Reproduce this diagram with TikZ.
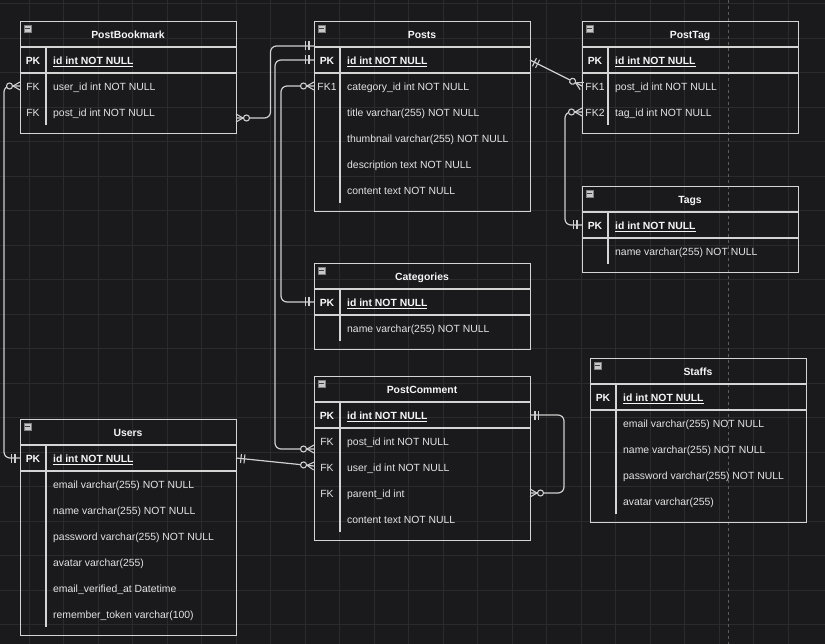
\documentclass[tikz,border=0pt]{standalone}
\usepackage{fontspec}
\setmainfont{Liberation Sans}
\usetikzlibrary{decorations.markings}
\definecolor{bgc}{HTML}{1A1A1C}
\definecolor{gridc}{HTML}{2B2B2E}
\definecolor{linec}{HTML}{D4D4D4}
\definecolor{connc}{HTML}{CFCFCF}
\definecolor{txtc}{HTML}{E4E4E4}
\definecolor{titc}{HTML}{F6F6F6}
\definecolor{iconc}{HTML}{C8C8C8}
\definecolor{dashc}{HTML}{5C5C5C}
\newcommand\fsz{\fontsize{10.4}{12}\selectfont}
\tikzset{
  every node/.style={font=\fsz, text=txtc, inner sep=0pt},
  tbl/.style={draw=linec, line width=1.1pt},
  tline/.style={draw=linec, line width=1.1pt},
  gline/.style={draw=gridc, line width=0.8pt},
  conn/.style={draw=connc, line width=1.2pt, rounded corners=6pt},
  mk/.style={draw=connc, line width=1.1pt, sharp corners},
  ftxt/.style={anchor=west, text height=7.4pt, text depth=0pt, yshift=-0.8pt},
  ktxt/.style={text height=7.4pt, text depth=0pt, yshift=-0.8pt},
  boldtxt/.style={font=\fsz\bfseries, text=titc},
  onestart/.style={postaction={decorate, decoration={markings,
    mark=at position 5pt with {\draw[mk] (0pt,-4.5pt)--(0pt,4.5pt);},
    mark=at position 8.5pt with {\draw[mk] (0pt,-4.5pt)--(0pt,4.5pt);}}}},
  oneend/.style={postaction={decorate, decoration={markings,
    mark=at position -5pt with {\draw[mk] (0pt,-4.5pt)--(0pt,4.5pt);},
    mark=at position -8.5pt with {\draw[mk] (0pt,-4.5pt)--(0pt,4.5pt);}}}},
  zmstart/.style={postaction={decorate, decoration={markings,
    mark=at position 0pt with {\draw[mk] (0pt,4pt)--(7pt,0pt)--(0pt,-4pt);
      \draw[mk, fill=bgc] (10.5pt,0pt) circle (3pt);}}}},
  zmend/.style={postaction={decorate, decoration={markings,
    mark=at position -0.01pt with {\draw[mk] (0pt,4pt)--(-7pt,0pt)--(0pt,-4pt);
      \draw[mk, fill=bgc] (-10.5pt,0pt) circle (3pt);}}}},
}
% name, left x, top y, number of extra rows, title, rows
\newcommand\ertable[6]{%
  \begin{scope}[shift={(#2,#3)}]
    \node[tbl, anchor=north west, minimum width=216pt, minimum height={60pt+26pt*#4}] (#1) at (0,0) {};
    \draw[tline] (0,26)--(216,26) (0,52)--(216,52) (26,26)--(26,{52+26*#4});
    \draw[draw=gray, fill=iconc, line width=0.5pt] (4,4) rectangle (11,11);
    \draw[draw=black!75, line width=1.2pt] (5.3,7.5)--(9.7,7.5);
    \node[boldtxt, ktxt] (#1-title) at (108,13) {#5};
    \node[boldtxt, ktxt] (#1-k0) at (13,39) {PK};
    \node[boldtxt, ftxt] (#1-f0) at (33,39) {\underline{id int NOT NULL}};
    \coordinate (#1-r0-w) at (0,39);
    \coordinate (#1-r0-e) at (216,39);
    \foreach \k/\f [count=\i] in {#6} {
      \node[ktxt] (#1-k\i) at (13,{39+26*\i}) {\k};
      \node[ftxt] (#1-f\i) at (33,{39+26*\i}) {\f};
      \coordinate (#1-r\i-w) at (0,{39+26*\i});
      \coordinate (#1-r\i-e) at (216,{39+26*\i});
    }
  \end{scope}}
\begin{document}
\begin{tikzpicture}[x=1pt, y=-1pt]
  \fill[bgc] (0,0) rectangle (825,644);
  \useasboundingbox (0,0) rectangle (825,644);
  \foreach \i in {0,...,22} \draw[gline] ({29+34.5*\i},0) -- ({29+34.5*\i},644);
  \foreach \i in {0,...,18} \draw[gline] (0,{3.5+34.5*\i}) -- (825,{3.5+34.5*\i});
  \draw[draw=dashc, line width=1pt, dash pattern=on 3pt off 3pt] (728,0) -- (728,644);

  \ertable{pb}{20}{21}{2}{PostBookmark}{{FK}/{user\_id int NOT NULL},{FK}/{post\_id int NOT NULL}}
  \ertable{posts}{314}{21}{5}{Posts}{{FK1}/{category\_id int NOT NULL},{}/{title varchar(255) NOT NULL},{}/{thumbnail varchar(255) NOT NULL},{}/{description text NOT NULL},{}/{content text NOT NULL}}
  \ertable{posttag}{582}{21}{2}{PostTag}{{FK1}/{post\_id int NOT NULL},{FK2}/{tag\_id int NOT NULL}}
  \ertable{tags}{582}{186}{1}{Tags}{{}/{name varchar(255) NOT NULL}}
  \ertable{cat}{314}{263}{1}{Categories}{{}/{name varchar(255) NOT NULL}}
  \ertable{pc}{314}{376}{4}{PostComment}{{FK}/{post\_id int NOT NULL},{FK}/{user\_id int NOT NULL},{FK}/{parent\_id int},{}/{content text NOT NULL}}
  \ertable{staffs}{590}{358}{4}{Staffs}{{}/{email varchar(255) NOT NULL},{}/{name varchar(255) NOT NULL},{}/{password varchar(255) NOT NULL},{}/{avatar varchar(255)}}
  \ertable{users}{20}{419}{6}{Users}{{}/{email varchar(255) NOT NULL},{}/{name varchar(255) NOT NULL},{}/{password varchar(255) NOT NULL},{}/{avatar varchar(255)},{}/{email\_verified\_at Datetime},{}/{remember\_token varchar(100)}}

  % connectors
  \draw[conn, zmstart, oneend] ([yshift=-6pt]pb-r2-e) -| ([xshift=-43.5pt,yshift=14pt]posts-r0-w) -- ([yshift=14pt]posts-r0-w);
  \draw[conn, onestart, zmend] (posts-r0-w) -| ([xshift=-39pt,yshift=-8pt]pc-r1-w) -- ([yshift=-8pt]pc-r1-w);
  \draw[conn, zmstart, oneend] (posts-r1-w) -| ([xshift=-33pt]cat-r0-w) -- (cat-r0-w);
  \draw[conn, zmstart, oneend] (pb-r1-w) -| ([xshift=-16pt]users-r0-w) -- (users-r0-w);
  \draw[conn, onestart, zmend] (users-r0-e) -- ([yshift=1pt]pc-r2-w);
  \draw[conn, onestart, zmend] (posts-r0-e) -- (posttag-r1-w);
  \draw[conn, zmstart, oneend] (posttag-r2-w) -| ([xshift=-17pt]tags-r0-w) -- (tags-r0-w);
  \draw[conn, onestart, zmend] (pc-r0-e) -| ([xshift=34pt]pc-r3-e) -- (pc-r3-e);
\end{tikzpicture}
\end{document}
